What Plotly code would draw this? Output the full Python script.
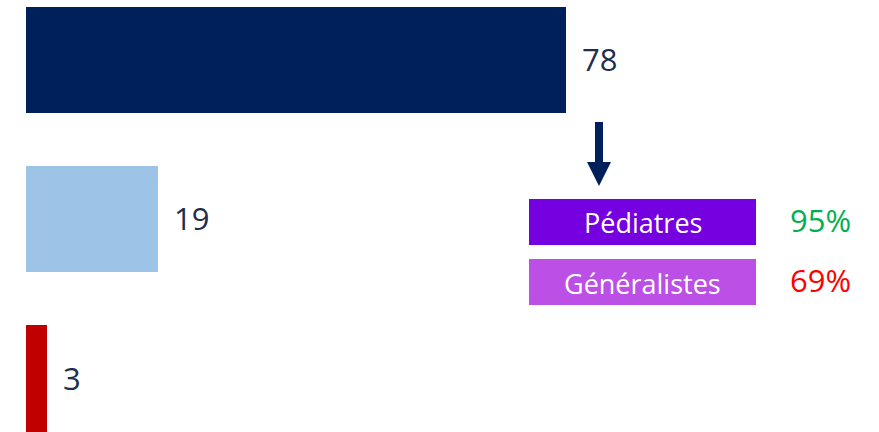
import plotly.graph_objects as go

# Données
categories = ["Oui", "Non", "Ne sait pas"]
values = [78, 19, 3]
bar_colors = ["#00205B", "#9DC3E6", "#C00000"]

groups = ["Pédiatres", "Généralistes"]
group_shares = ["95%", "69%"]
group_box_colors = ["#7500E0", "#BB4FE6"]
group_text_colors = ["#00B050", "#FF0000"]

W, H = 879, 432
FONT = "Open Sans"

def px(x):
    return x / W

def py(y):
    return 1 - y / H

ypos = list(range(len(categories)))

fig = go.Figure()
fig.add_trace(go.Bar(
    x=values,
    y=ypos,
    orientation="h",
    marker=dict(color=bar_colors, line=dict(width=0)),
    width=0.666,
    hoverinfo="skip",
))

# Valeurs à droite des barres
for v, y in zip(values, ypos):
    fig.add_annotation(
        x=v, y=y, xref="x", yref="y",
        text=str(v), showarrow=False,
        xanchor="left", yanchor="middle", xshift=14, yshift=1,
        font=dict(family=FONT, size=31, color="#1F2D4E"),
    )

# Flèche vers le détail par spécialité
shapes = [
    dict(type="rect", xref="paper", yref="paper",
         x0=px(595), x1=px(603), y0=py(122), y1=py(164),
         fillcolor="#00205B", line=dict(width=0)),
    dict(type="path", xref="paper", yref="paper",
         path=f"M {px(587)} {py(162)} L {px(611)} {py(162)} L {px(599)} {py(186)} Z",
         fillcolor="#00205B", line=dict(width=0)),
]

box_tops = [199, 259]
for name, share, bc, tc, top in zip(groups, group_shares, group_box_colors,
                                     group_text_colors, box_tops):
    shapes.append(dict(type="rect", xref="paper", yref="paper",
                       x0=px(529), x1=px(756), y0=py(top + 46), y1=py(top),
                       fillcolor=bc, line=dict(width=0)))
    fig.add_annotation(
        x=px(642.5), y=py(top + 23), xref="paper", yref="paper",
        text=name, showarrow=False, xanchor="center", yanchor="middle",
        yshift=-1,
        font=dict(family=FONT, size=27, color="white"),
    )
    fig.add_annotation(
        x=px(820), y=py(top + 21), xref="paper", yref="paper",
        text=share, showarrow=False, xanchor="center", yanchor="middle",
        font=dict(family=FONT, size=31, color=tc),
    )

fig.update_layout(
    width=W, height=H,
    margin=dict(l=0, r=0, t=0, b=0),
    paper_bgcolor="white", plot_bgcolor="white",
    showlegend=False,
    shapes=shapes,
    xaxis=dict(range=[-26 / 6.923, (W - 26) / 6.923], visible=False, fixedrange=True),
    yaxis=dict(range=[(H - 60) / 159.25, -60 / 159.25], visible=False, fixedrange=True),
    bargap=0,
)

fig.write_html("out.html", config={"displayModeBar": False})
